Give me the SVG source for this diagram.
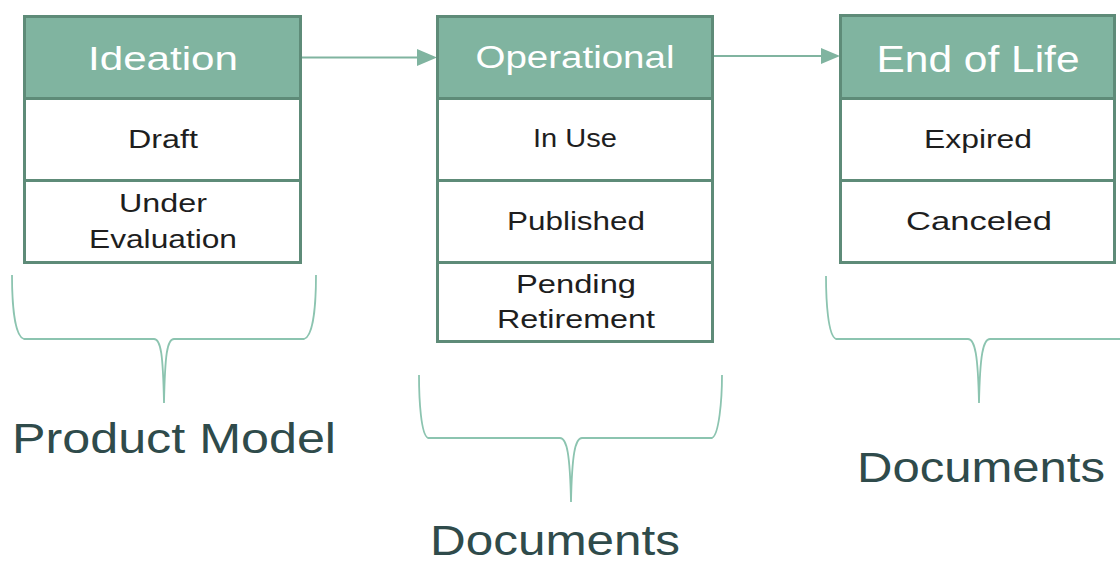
<svg xmlns="http://www.w3.org/2000/svg" width="1120" height="562" viewBox="0 0 1120 562">
<defs>
<style>
.hdr{fill:#80b4a0;stroke:#5e8b78;stroke-width:3}
.row{fill:#ffffff;stroke:#5e8b78;stroke-width:3}
.ht{font-family:"Liberation Sans","DejaVu Sans",sans-serif;fill:#ffffff;text-anchor:middle}
.rt{font-family:"Liberation Sans","DejaVu Sans",sans-serif;fill:#1e1e1e;font-size:25px;text-anchor:middle}
.lbl{font-family:"Liberation Sans","DejaVu Sans",sans-serif;fill:#2f4b4b;font-size:42px}
.conn{stroke:#80b4a0;stroke-width:2;fill:none}
.brace{stroke:#8cc4b0;stroke-width:1.8;fill:none}
</style>
</defs>
<rect width="1120" height="562" fill="#ffffff"/>
<g id="connectors">
<path class="conn" d="M302,57.5 L418,57.5"/>
<path d="M417,49 L437,57.5 L417,66 Z" fill="#80b4a0"/>
<path class="conn" d="M714,56 L822,56"/>
<path d="M821,48 L840,56 L821,64 Z" fill="#80b4a0"/>
</g>
<g id="ideation">
<rect class="hdr" x="24.5" y="16.5" width="276" height="82"/>
<rect class="row" x="24.5" y="98.5" width="276" height="82"/>
<rect class="row" x="24.5" y="180.5" width="276" height="82"/>
<text class="ht" x="163" y="70" font-size="33" textLength="150" lengthAdjust="spacingAndGlyphs">Ideation</text>
<text class="rt" x="163" y="148" textLength="70" lengthAdjust="spacingAndGlyphs">Draft</text>
<text class="rt" x="163" y="212" textLength="88" lengthAdjust="spacingAndGlyphs">Under</text>
<text class="rt" x="163" y="248" textLength="148" lengthAdjust="spacingAndGlyphs">Evaluation</text>
</g>
<g id="operational">
<rect class="hdr" x="437.5" y="16.5" width="275" height="82"/>
<rect class="row" x="437.5" y="98.5" width="275" height="82"/>
<rect class="row" x="437.5" y="180.5" width="275" height="82"/>
<rect class="row" x="437.5" y="262.5" width="275" height="79"/>
<text class="ht" x="575" y="68" font-size="31" textLength="199" lengthAdjust="spacingAndGlyphs">Operational</text>
<text class="rt" x="575" y="147" textLength="84" lengthAdjust="spacingAndGlyphs">In Use</text>
<text class="rt" x="576" y="230" textLength="138" lengthAdjust="spacingAndGlyphs">Published</text>
<text class="rt" x="576" y="293" textLength="120" lengthAdjust="spacingAndGlyphs">Pending</text>
<text class="rt" x="576" y="328" textLength="158" lengthAdjust="spacingAndGlyphs">Retirement</text>
</g>
<g id="endoflife">
<rect class="hdr" x="840.5" y="15.5" width="274" height="83"/>
<rect class="row" x="840.5" y="98.5" width="274" height="82"/>
<rect class="row" x="840.5" y="180.5" width="274" height="82"/>
<text class="ht" x="978" y="72" font-size="37" textLength="203" lengthAdjust="spacingAndGlyphs">End of Life</text>
<text class="rt" x="978" y="148" textLength="108" lengthAdjust="spacingAndGlyphs">Expired</text>
<text class="rt" x="979" y="230" textLength="146" lengthAdjust="spacingAndGlyphs">Canceled</text>
</g>
<g id="brace-product-model">
<path class="brace" d="M12,275 C12,300 14,336 24,339 L154,339 C161,339 163,355 164,403 C165,355 167,339 174,339 L304,339 C314,336 316,300 316,275"/>
<text class="lbl" x="12" y="453" textLength="324" lengthAdjust="spacingAndGlyphs">Product Model</text>
</g>
<g id="brace-documents-1">
<path class="brace" d="M419,375 C419,400 421,435 428,438 L560,438 C567,438 570,455 571,502 C572,455 575,438 582,438 L712,438 C719,435 722,400 722,375"/>
<text class="lbl" x="430" y="555" textLength="250" lengthAdjust="spacingAndGlyphs">Documents</text>
</g>
<g id="brace-documents-2">
<path class="brace" d="M826,276 C826,301 828,336 836,339 L968,339 C975,339 978,355 979,403 C980,355 983,339 990,339 L1120,339"/>
<text class="lbl" x="857" y="482" textLength="248" lengthAdjust="spacingAndGlyphs">Documents</text>
</g>
</svg>
